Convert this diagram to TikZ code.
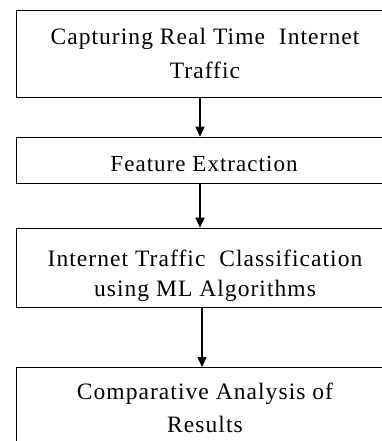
\documentclass[tikz,border=0pt]{standalone}
\usepackage{fontspec}
\setmainfont{Liberation Serif}[LetterSpace=4.5]
\usetikzlibrary{arrows.meta}
\begin{document}
\begin{tikzpicture}[x=1pt,y=-1pt,
  box/.style={draw, line width=1.4pt, rectangle, inner sep=0pt, anchor=north west, minimum width=376pt},
  lbl/.style={align=center, inner sep=0pt, anchor=base},
  arr/.style={line width=1.5pt, -{Triangle[length=10pt,width=9pt]}}]
\useasboundingbox (0,0) rectangle (382,441);
\clip (0,0) rectangle (382,441);
\node[box, minimum height=86.7pt] (b1) at (16,10) {};
\node[box, minimum height=46pt] (b2) at (16,136.7) {};
\node[box, minimum height=79pt] (b3) at (16,227.7) {};
\node[box, minimum height=100pt] (b4) at (16,367) {};
\node[lbl, font=\fontsize{23.5}{34}\selectfont] (t1) at (205,79) {Capturing Real Time\ \ Internet\\Traffic};
\node[lbl, font=\fontsize{23}{30}\selectfont] (t2) at (204,171.7) {Feature Extraction};
\node[lbl, font=\fontsize{23.5}{30}\selectfont] (t3) at (205,296.7) {Internet Traffic\ \ Classification\\using ML Algorithms};
\node[lbl, font=\fontsize{23.5}{33}\selectfont] (t4) at (205,432) {Comparative Analysis of\\Results};
\coordinate (ax) at (200,0);
\coordinate (cx) at (202,0);
\draw[arr] (b1.south -| ax) -- (b2.north -| ax);
\draw[arr] (b2.south -| ax) -- (b3.north -| ax);
\draw[arr] (b3.south -| cx) -- (b4.north -| cx);
\end{tikzpicture}
\end{document}
